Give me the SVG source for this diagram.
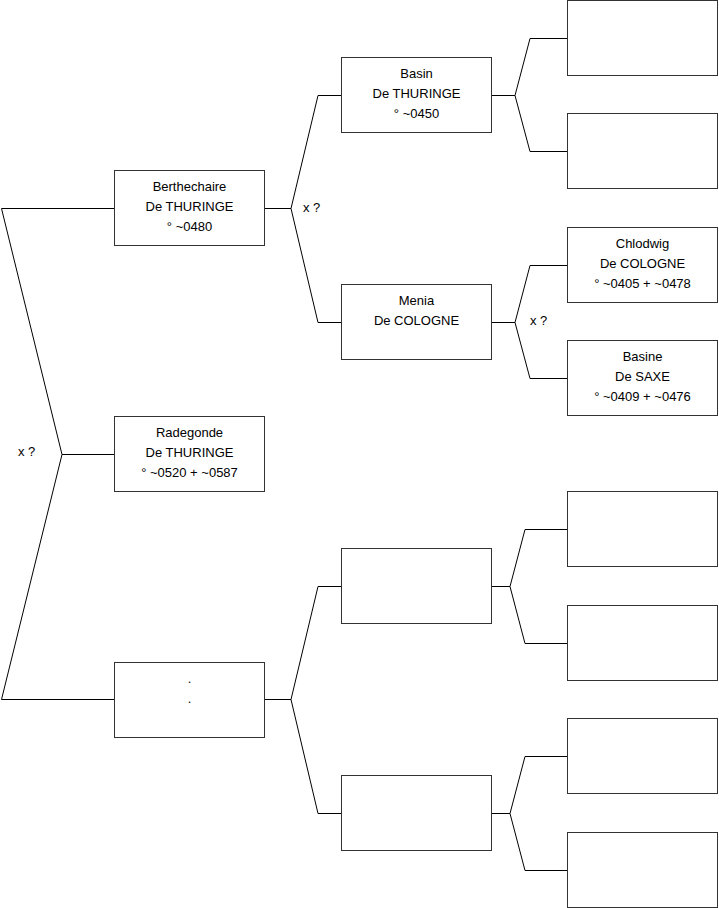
<svg xmlns="http://www.w3.org/2000/svg" width="719" height="908" viewBox="0 0 719 908">
<style>
.box{fill:#fff;stroke:#333;stroke-width:1}
.ln{fill:none;stroke:#000;stroke-width:1}
text{font-family:"Liberation Sans",Arial,sans-serif;font-size:13px;fill:#000;text-anchor:middle}
.lbl{text-anchor:start}
</style>
<rect width="719" height="908" fill="#fff"/>
<g id="connectors">
<path class="ln" d="M114,208.5 H1.5 L62,454.5 L1.5,699.5 H114 M62,454.5 H114"/>
<path class="ln" d="M265,208.5 H291 L318,95.5 H341 M291,208.5 L318,322.5 H341"/>
<path class="ln" d="M265,699.5 H291 L318,586.5 H341 M291,699.5 L318,813.5 H341"/>
<path class="ln" d="M492,95.5 H515 L530,38.5 H567 M515,95.5 L530,151.5 H567"/>
<path class="ln" d="M492,322.5 H515 L530,265.5 H567 M515,322.5 L530,378.5 H567"/>
<path class="ln" d="M492,586.5 H510 L525,529.5 H567 M510,586.5 L525,643.5 H567"/>
<path class="ln" d="M492,813.5 H510 L525,756.5 H567 M510,813.5 L525,870.5 H567"/>
<text class="lbl" x="18" y="456">x ?</text>
<text class="lbl" x="303" y="212">x ?</text>
<text class="lbl" x="530" y="325">x ?</text>
</g>
<g id="berthechaire"><rect class="box" x="114.5" y="170.5" width="150" height="75"/><text x="189.5" y="191">Berthechaire</text><text x="189.5" y="211">De THURINGE</text><text x="189.5" y="231">° ~0480</text></g>
<g id="radegonde"><rect class="box" x="114.5" y="416.5" width="150" height="75"/><text x="189.5" y="437">Radegonde</text><text x="189.5" y="457">De THURINGE</text><text x="189.5" y="477">° ~0520 + ~0587</text></g>
<g id="unknown1"><rect class="box" x="114.5" y="662.5" width="150" height="75"/><text x="189.5" y="683">.</text><text x="189.5" y="703">.</text></g>
<g id="basin"><rect class="box" x="341.5" y="57.5" width="150" height="75"/><text x="416.5" y="78">Basin</text><text x="416.5" y="98">De THURINGE</text><text x="416.5" y="118">° ~0450</text></g>
<g id="menia"><rect class="box" x="341.5" y="284.5" width="150" height="75"/><text x="416.5" y="305">Menia</text><text x="416.5" y="325">De COLOGNE</text></g>
<g id="empty2a"><rect class="box" x="341.5" y="548.5" width="150" height="75"/></g>
<g id="empty2b"><rect class="box" x="341.5" y="775.5" width="150" height="75"/></g>
<g id="empty3a"><rect class="box" x="567.5" y="0.5" width="150" height="75"/></g>
<g id="empty3b"><rect class="box" x="567.5" y="113.5" width="150" height="75"/></g>
<g id="chlodwig"><rect class="box" x="567.5" y="227.5" width="150" height="75"/><text x="642.5" y="248">Chlodwig</text><text x="642.5" y="268">De COLOGNE</text><text x="642.5" y="288">° ~0405 + ~0478</text></g>
<g id="basine"><rect class="box" x="567.5" y="340.5" width="150" height="75"/><text x="642.5" y="361">Basine</text><text x="642.5" y="381">De SAXE</text><text x="642.5" y="401">° ~0409 + ~0476</text></g>
<g id="empty3e"><rect class="box" x="567.5" y="491.5" width="150" height="75"/></g>
<g id="empty3f"><rect class="box" x="567.5" y="605.5" width="150" height="75"/></g>
<g id="empty3g"><rect class="box" x="567.5" y="718.5" width="150" height="75"/></g>
<g id="empty3h"><rect class="box" x="567.5" y="832.5" width="150" height="75"/></g>
</svg>
